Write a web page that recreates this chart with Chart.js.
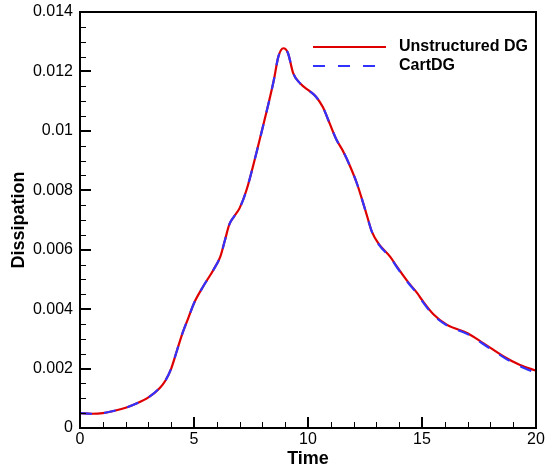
<!DOCTYPE html>
<html>
<head>
<meta charset="utf-8">
<script src="https://cdn.jsdelivr.net/npm/chart.js@4"></script>
<style>
  html, body { margin: 0; padding: 0; background: #fff; }
  #wrap { width: 545px; height: 470px; }
</style>
</head>
<body>
<div id="wrap"><canvas id="myChart" width="545" height="470"></canvas></div>
<script>
(function () {
    'use strict';

    // ── Data ───────────────────────────────────────────────────────────────────
    const times = [0, 0.5, 1, 1.5, 2, 2.5, 3, 3.5, 3.75, 4,
                   4.25, 4.5, 4.75, 5, 5.4, 5.85, 6.15, 6.35, 6.55, 6.75,
                   7.0, 7.3, 7.75, 8.2, 8.5, 8.7, 8.92, 9.12, 9.35, 9.65,
                   10.1, 10.35, 10.65, 10.95, 11.25, 11.55, 11.85, 12.15, 12.4, 12.6,
                   12.8, 13.1, 13.6, 13.9, 14.4, 14.8, 15.0, 15.5, 16.1, 17.0,
                   17.7, 18.6, 19.3, 20];

    const unstructuredDG = [0.00050, 0.00048, 0.00050, 0.00058, 0.00068, 0.00083, 0.00103, 0.00135, 0.00160, 0.00200,
                            0.00260, 0.00320, 0.00370, 0.00420, 0.00476, 0.00532, 0.00576, 0.00630, 0.00685, 0.00711,
                            0.00740, 0.00800, 0.00930, 0.01070, 0.01170, 0.01250, 0.01278, 0.01262, 0.01194, 0.01160,
                            0.01132, 0.01115, 0.01080, 0.01025, 0.00970, 0.00930, 0.00880, 0.00822, 0.00762, 0.00711,
                            0.00661, 0.00620, 0.00577, 0.00543, 0.00490, 0.00453, 0.00431, 0.00383, 0.00347, 0.00319,
                            0.00285, 0.00240, 0.00212, 0.00193];

    const cartDG = [0.00050, 0.00048, 0.00050, 0.00058, 0.00068, 0.00083, 0.00103, 0.00135, 0.00160, 0.00200,
                    0.00260, 0.00320, 0.00370, 0.00420, 0.00476, 0.00532, 0.00576, 0.00630, 0.00685, 0.00711,
                    0.00740, 0.00800, 0.00930, 0.01070, 0.01170, 0.01250, 0.01278, 0.01262, 0.01194, 0.01160,
                    0.01132, 0.01115, 0.01080, 0.01025, 0.00970, 0.00930, 0.00880, 0.00822, 0.00762, 0.00711,
                    0.00661, 0.00618, 0.00575, 0.00541, 0.00488, 0.00451, 0.00428, 0.00380, 0.00345, 0.00316,
                    0.00282, 0.00237, 0.00208, 0.00185];

    const seriesNames = ['Unstructured DG', 'CartDG'];
    const xTicks = [0, 5, 10, 15, 20];
    const yTicks = [0, 0.002, 0.004, 0.006, 0.008, 0.01, 0.012, 0.014];

    const RED  = 'rgb(222, 0, 0)';
    const BLUE = 'rgb(50, 50, 255)';
    const FONT = '"Liberation Sans", Arial, sans-serif';

    const toPoints = (ys) => times.map((t, i) => ({ x: t, y: ys[i] }));

    // ── Frame, inward ticks and legend ─────────────────────────────────────────
    const framePlugin = {
        id: 'frame',
        afterDraw(chart) {
            const { ctx, chartArea, scales } = chart;
            const { left, right, top, bottom } = chartArea;
            ctx.save();
            ctx.strokeStyle = '#000';

            // minor ticks (x every 1, y every 0.0005)
            ctx.lineWidth = 1;
            ctx.beginPath();
            for (let t = 0; t <= 20; t++) {
                if (t % 5 === 0) continue;
                const px = Math.round(scales.x.getPixelForValue(t)) + 0.5;
                ctx.moveTo(px, bottom); ctx.lineTo(px, bottom - 6);
            }
            for (let k = 0; k <= 28; k++) {
                if (k % 4 === 0) continue;
                const py = Math.round(scales.y.getPixelForValue(k * 0.0005)) + 0.5;
                ctx.moveTo(left, py); ctx.lineTo(left + 6, py);
            }
            ctx.stroke();

            // major ticks
            ctx.lineWidth = 2;
            ctx.beginPath();
            xTicks.forEach(t => {
                const px = Math.round(scales.x.getPixelForValue(t));
                ctx.moveTo(px, bottom); ctx.lineTo(px, bottom - 11);
            });
            yTicks.forEach(v => {
                const py = Math.round(scales.y.getPixelForValue(v));
                ctx.moveTo(left, py); ctx.lineTo(left + 11, py);
            });
            ctx.stroke();

            // frame
            ctx.lineWidth = 2;
            ctx.strokeRect(left, top, right - left, bottom - top);

            // legend
            const lx0 = 313, lx1 = 386, ly0 = 47, ly1 = 66;
            ctx.lineWidth = 2.2;
            ctx.strokeStyle = RED;
            ctx.beginPath(); ctx.moveTo(lx0, ly0); ctx.lineTo(lx1, ly0); ctx.stroke();
            ctx.strokeStyle = BLUE;
            ctx.setLineDash([12, 13]);
            ctx.beginPath(); ctx.moveTo(lx0, ly1); ctx.lineTo(lx1, ly1); ctx.stroke();
            ctx.setLineDash([]);

            ctx.fillStyle = '#000';
            ctx.font = 'bold 16px ' + FONT;
            ctx.textAlign = 'left';
            ctx.textBaseline = 'middle';
            ctx.fillText(seriesNames[0], 399, ly0);
            ctx.fillText(seriesNames[1], 399, ly1);

            ctx.restore();
        }
    };

    // ── Chart ──────────────────────────────────────────────────────────────────
    const chart = new Chart(document.getElementById('myChart').getContext('2d'), {
        type: 'line',
        data: {
            datasets: [{
                label: seriesNames[0],
                data: toPoints(unstructuredDG),
                borderColor: RED,
                borderWidth: 2.2,
                pointRadius: 0,
                cubicInterpolationMode: 'monotone',
                fill: false,
                order: 2
            }, {
                label: seriesNames[1],
                data: toPoints(cartDG),
                borderColor: BLUE,
                borderWidth: 2.2,
                borderDash: [12, 12],
                pointRadius: 0,
                cubicInterpolationMode: 'monotone',
                fill: false,
                order: 1
            }]
        },
        options: {
            responsive: false,
            animation: false,
            layout: { padding: { top: 12, right: 9, bottom: 0, left: 0 } },
            plugins: {
                legend: { display: false },
                tooltip: { enabled: false }
            },
            scales: {
                x: {
                    type: 'linear',
                    min: 0, max: 20,
                    afterBuildTicks: (s) => { s.ticks = xTicks.map(v => ({ value: v })); },
                    afterFit: (s) => { s.height = 42; s.paddingLeft = 0; s.paddingRight = 0; },
                    grid: { display: false, drawTicks: false, tickLength: 0 },
                    border: { display: false },
                    ticks: {
                        color: '#000',
                        font: { family: FONT, size: 16 },
                        padding: 2,
                        maxRotation: 0,
                        callback: (v) => String(v)
                    },
                    title: {
                        display: true,
                        text: 'Time',
                        color: '#000',
                        font: { family: FONT, size: 18, weight: 'bold' },
                        padding: { top: 0, bottom: 0 }
                    }
                },
                y: {
                    min: 0, max: 0.014,
                    afterBuildTicks: (s) => { s.ticks = yTicks.map(v => ({ value: v })); },
                    afterFit: (s) => { s.width = 80; s.paddingTop = 0; s.paddingBottom = 0; },
                    grid: { display: false, drawTicks: false, tickLength: 0 },
                    border: { display: false },
                    ticks: {
                        color: '#000',
                        font: { family: FONT, size: 16 },
                        padding: 7,
                        callback: (v) => String(Number(v.toFixed(3)))
                    },
                    title: {
                        display: true,
                        text: 'Dissipation',
                        color: '#000',
                        font: { family: FONT, size: 18, weight: 'bold' },
                        padding: { top: 8, bottom: 0 }
                    }
                }
            }
        },
        plugins: [framePlugin]
    });
}());
</script>
</body>
</html>
